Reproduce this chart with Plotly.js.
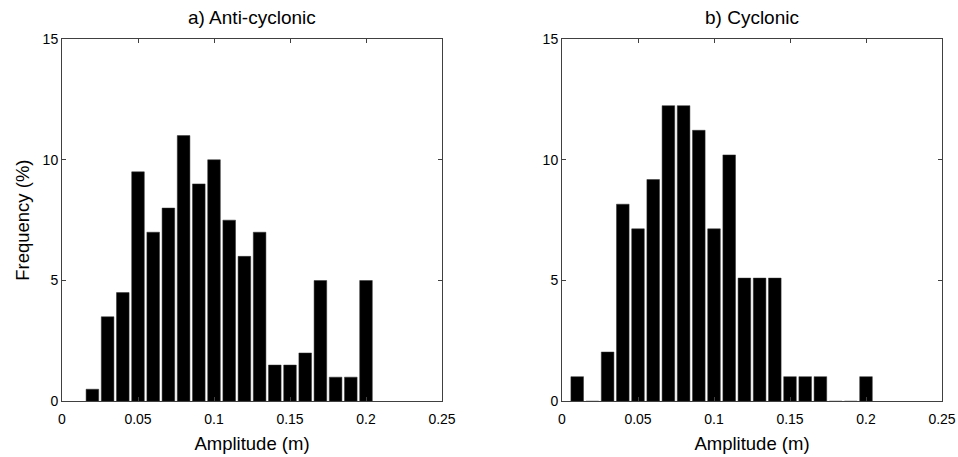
<!DOCTYPE html>
<html>
<head>
<meta charset="utf-8">
<script src="https://cdn.plot.ly/plotly-3.0.1.min.js"></script>
<style>html,body{margin:0;padding:0;background:#fff;}#chart{width:958px;height:457px;}</style>
</head>
<body>
<div id="chart"></div>
<script>
// Bin centres (m)
const binsA = [0.02,0.03,0.04,0.05,0.06,0.07,0.08,0.09,0.10,0.11,0.12,0.13,0.14,0.15,0.16,0.17,0.18,0.19,0.20];
const freqA = [0.5,3.5,4.5,9.5,7,8,11,9,10,7.5,6,7,1.5,1.5,2,5,1,1,5];

const binsC = [0.01,0.02,0.03,0.04,0.05,0.06,0.07,0.08,0.09,0.10,0.11,0.12,0.13,0.14,0.15,0.16,0.17,0.18,0.19,0.20];
const freqC = [1.02,0,2.04,8.16,7.14,9.18,12.24,12.24,11.22,7.14,10.20,5.10,5.10,5.10,1.02,1.02,1.02,0,0,1.02];

const titles = ["a) Anti-cyclonic", "b) Cyclonic"];
const xTitle = "Amplitude (m)";
const yTitle = "Frequency (%)";
const xTicks = [0,0.05,0.1,0.15,0.2,0.25];
const xTickText = ["0","0.05","0.1","0.15","0.2","0.25"];
const yTicks = [0,5,10,15];

const FONT = "Liberation Sans, Arial, Helvetica, sans-serif";
const axCol = "#404040";

const barStyle = {color:"#000", line:{color:"#333", width:0.5}};
const traces = [
  {type:"bar", x:binsA, y:freqA, width:0.0083, marker:barStyle, xaxis:"x", yaxis:"y", hoverinfo:"x+y"},
  {type:"bar", x:binsC, y:freqC, width:0.0083, marker:barStyle, xaxis:"x2", yaxis:"y2", hoverinfo:"x+y"}
];

function xax(domain, anchor){
  return {domain:domain, anchor:anchor, range:[0,0.25], tickvals:xTicks, ticktext:xTickText,
    ticks:"inside", ticklen:4, tickcolor:axCol, tickwidth:1, showline:true, linecolor:axCol, linewidth:1,
    mirror:"ticks", showgrid:false, zeroline:false, tickfont:{family:FONT, size:14, color:"#000"},
    ticklabelstandoff:5,
    title:{text:xTitle, font:{family:FONT, size:18.5, color:"#000"}, standoff:10}, automargin:false};
}
function yax(anchor, withTitle){
  const a = {domain:[0.1219,0.9147], anchor:anchor, range:[0,15], tickvals:yTicks,
    ticks:"inside", ticklen:4, tickcolor:axCol, tickwidth:1, showline:true, linecolor:axCol, linewidth:1,
    mirror:"ticks", showgrid:false, zeroline:false, tickfont:{family:FONT, size:14, color:"#000"}, automargin:false};
  if(withTitle) a.title = {text:yTitle, font:{family:FONT, size:18.5, color:"#000"}, standoff:8};
  return a;
}

const layout = {
  width:958, height:457, margin:{l:0,r:0,t:0,b:0},
  paper_bgcolor:"#fff", plot_bgcolor:"#fff", showlegend:false,
  bargap:0,
  xaxis: xax([62/958, 442/958], "y"),
  yaxis: yax("x", true),
  xaxis2: xax([562/958, 942/958], "y2"),
  yaxis2: yax("x2", false),
  annotations:[
    {text:titles[0], xref:"paper", yref:"paper", x:252/958, y:1-17.5/457, xanchor:"center", yanchor:"middle", showarrow:false, font:{family:FONT, size:19, color:"#000"}},
    {text:titles[1], xref:"paper", yref:"paper", x:752/958, y:1-17.5/457, xanchor:"center", yanchor:"middle", showarrow:false, font:{family:FONT, size:19, color:"#000"}}
  ]
};

Plotly.newPlot("chart", traces, layout, {displayModeBar:false, staticPlot:true});
</script>
</body>
</html>
